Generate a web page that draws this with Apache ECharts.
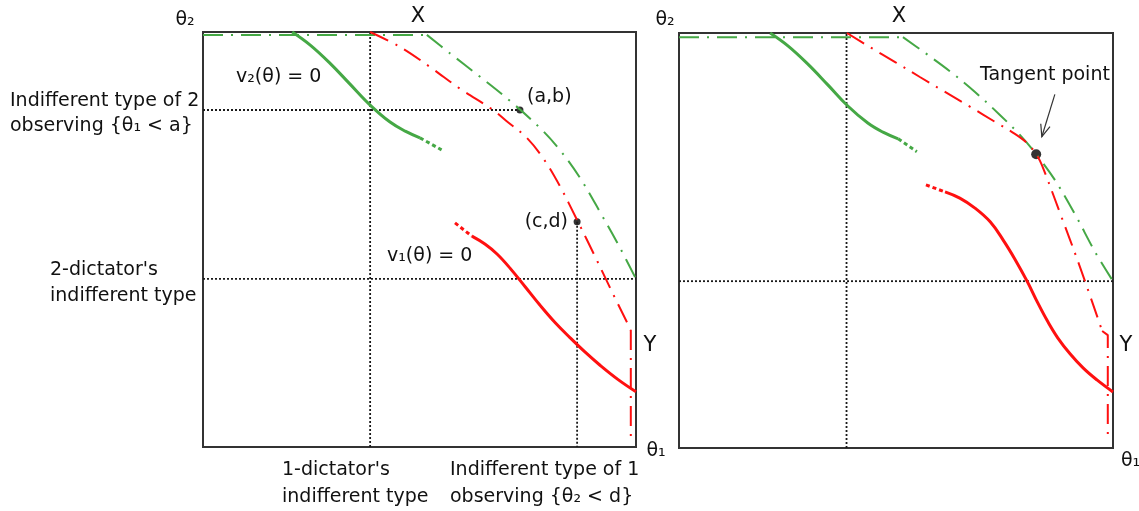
<!DOCTYPE html>
<html><head><meta charset="utf-8">
<script src="https://cdn.jsdelivr.net/npm/echarts@6/dist/echarts.min.js"></script>
<style>html,body{margin:0;padding:0;background:#fff}#c{width:1139px;height:511px}</style>
</head><body><div id="c"></div>
<script>
// ---- Data (panel units: 0..100 on both axes) ----
// Left panel
const L_vDotX = [[38.6,0],[38.6,100]];
const L_hDotAB = [[0,81.2],[73.2,81.2]];
const L_hDotMid = [[0,40.5],[100,40.5]];
const L_vDotCD = [[86.4,54.3],[86.4,0]];
const L_greenTop = [[0,99.3],[51.7,99.3]];
const L_greenDD = [[51.7,99.3],[57.0,94.9],[64.0,89.2],[70.9,83.4],[77.8,76.9],[82.4,71.6],[87.1,64.8],[91.7,56.6],[96.3,48.0],[100,40.5]];
const L_redDD = [[38.6,100],[45.5,96.4],[52.4,91.6],[59.4,86.3],[67.0,81.2],[70.0,78.6],[74.8,74.5],[78.8,69.2],[82.4,62.9],[86.4,54.7],[90.5,46.0],[94.5,37.3],[98.8,28.2]];
const L_redVert = [[98.8,28.2],[98.8,1.7]];
const L_greenSolid = [[20.6,100],[24.7,96.9],[29.3,92.5],[33.9,87.5],[38.6,82.4],[43.2,78.3],[46.7,76.1],[50.1,74.5]];
const L_greenExt = [[50.1,74.5],[55.1,71.6]];
const L_redExt = [[58.2,54.0],[62.1,50.8]];
const L_redSolid = [[62.1,50.8],[65.1,48.9],[67.9,46.5],[70.9,43.1],[74.4,38.6],[77.8,34.2],[81.3,30.0],[84.8,26.3],[88.2,22.9],[91.7,19.7],[95.8,16.3],[100,13.3]];
const L_points = [[73.2,81.2],[86.4,54.3]];
// Right panel
const R_vDotX = [[38.6,0],[38.6,100]];
const R_hDotMid = [[0,40.2],[100,40.2]];
const R_greenTop = [[0,99.0],[51.6,99.0]];
const R_greenDD = [[51.6,99.0],[56.7,95.2],[62.4,90.8],[68.2,85.8],[74.0,80.2],[78.6,75.4],[82.3,70.8],[86.6,64.6],[91.2,56.4],[95.9,47.2],[100,40.2]];
const R_redDD = [[38.7,100],[44.0,96.6],[49.8,93.0],[55.5,89.4],[61.3,85.8],[67.1,82.2],[72.8,78.6],[77.4,75.7],[80.4,73.3],[82.3,70.8],[83.6,68.2],[87.8,56.6],[92.4,43.6],[97.5,28.2]];
const R_redVert = [[97.5,28.2],[98.8,27.2],[98.8,1.5]];
const R_greenSolid = [[21.0,100],[25.1,96.9],[29.7,92.5],[34.3,87.5],[38.9,82.4],[43.5,78.3],[47.0,76.1],[50.5,74.5]];
const R_greenExt = [[50.5,74.5],[54.8,71.4]];
const R_redExt = [[56.9,63.4],[61.3,61.7]];
const R_redSolid = [[61.3,61.7],[64.7,60.2],[68.2,57.8],[71.7,54.5],[74.7,50.1],[77.4,45.5],[80.2,40.2],[82.7,34.9],[85.0,30.4],[87.3,26.5],[90.1,22.7],[93.1,19.3],[96.3,16.4],[100,13.5]];
const R_tangent = [[82.3,70.8]];
const R_arrow = [[86.6,85.2,83.6,75.0]];

// Text
const T = {
  theta2: 'θ₂', theta1: 'θ₁', X: 'X', Y: 'Y',
  v2: 'v₂(θ) = 0', v1: 'v₁(θ) = 0', ab: '(a,b)', cd: '(c,d)',
  ind2: 'Indifferent type of 2\nobserving {θ₁ < a}',
  dict2: "2-dictator's\nindifferent type",
  dict1: "1-dictator's\nindifferent type",
  ind1: 'Indifferent type of 1\nobserving {θ₂ < d}',
  tangent: 'Tangent point'
};

const GREEN = '#45a845', RED = '#ff1010', DOT = '#1a1a1a';
const DASHDOT = [20, 8, 2, 8];
const FONT = "'DejaVu Sans', Verdana, sans-serif";

function ln(g, data, color, width, type, smooth) {
  return { type: 'line', xAxisIndex: g, yAxisIndex: g, data: data, symbol: 'none', clip: false,
    smooth: smooth || false, silent: true, animation: false,
    lineStyle: { color: color, width: width, type: type, cap: 'butt' } };
}
function pts(g, data, size) {
  return { type: 'scatter', xAxisIndex: g, yAxisIndex: g, data: data, symbolSize: size, clip: false,
    itemStyle: { color: '#000' }, animation: false, silent: true };
}
function txt(x, y, text, size, align, lh) {
  return { type: 'text', x: x, y: y, silent: true,
    style: { text: text, fill: '#111', font: size + 'px ' + FONT, textAlign: align || 'left',
      textVerticalAlign: 'top', lineHeight: lh || size + 6 } };
}

const chart = echarts.init(document.getElementById('c'), null, { renderer: 'canvas' });
const axisCommon = { type: 'value', min: 0, max: 100, show: false };
chart.setOption({
  backgroundColor: '#fff',
  animation: false,
  grid: [
    { left: 203, top: 32, width: 433, height: 415, show: true, borderColor: '#333', borderWidth: 2, backgroundColor: 'transparent' },
    { left: 679, top: 33, width: 434, height: 415, show: true, borderColor: '#333', borderWidth: 2, backgroundColor: 'transparent' }
  ],
  xAxis: [Object.assign({ gridIndex: 0 }, axisCommon), Object.assign({ gridIndex: 1 }, axisCommon)],
  yAxis: [Object.assign({ gridIndex: 0 }, axisCommon), Object.assign({ gridIndex: 1 }, axisCommon)],
  series: [
    ln(0, L_vDotX, DOT, 1.8, [2, 2]),
    ln(0, L_hDotAB, DOT, 1.8, [2, 2]),
    ln(0, L_hDotMid, DOT, 1.8, [2, 2]),
    ln(0, L_vDotCD, DOT, 1.8, [2, 2]),
    ln(0, L_greenTop, GREEN, 2, DASHDOT),
    ln(0, L_greenDD, GREEN, 2, DASHDOT, 0.35),
    ln(0, L_redDD, RED, 2, DASHDOT, 0.35),
    ln(0, L_redVert, RED, 2, DASHDOT),
    ln(0, L_greenSolid, GREEN, 3, 'solid', 0.4),
    ln(0, L_greenExt, GREEN, 3, [4, 3]),
    ln(0, L_redExt, RED, 3, [4, 3]),
    ln(0, L_redSolid, RED, 3, 'solid', 0.4),
    pts(0, L_points, 7),
    ln(1, R_vDotX, DOT, 1.8, [2, 2]),
    ln(1, R_hDotMid, DOT, 1.8, [2, 2]),
    ln(1, R_greenTop, GREEN, 2, DASHDOT),
    ln(1, R_greenDD, GREEN, 2, DASHDOT, 0.35),
    ln(1, R_redDD, RED, 2, DASHDOT, 0.35),
    ln(1, R_redVert, RED, 2, DASHDOT),
    ln(1, R_greenSolid, GREEN, 3, 'solid', 0.4),
    ln(1, R_greenExt, GREEN, 3, [4, 3]),
    ln(1, R_redExt, RED, 3, [4, 3]),
    ln(1, R_redSolid, RED, 3, 'solid', 0.4),
    pts(1, R_tangent, 10),
    {
      type: 'custom', xAxisIndex: 1, yAxisIndex: 1, data: R_arrow, silent: true, clip: false,
      encode: { x: [0, 2], y: [1, 3] },
      renderItem: function (params, api) {
        const p1 = api.coord([api.value(0), api.value(1)]);
        const p2 = api.coord([api.value(2), api.value(3)]);
        const a = Math.atan2(p2[1] - p1[1], p2[0] - p1[0]);
        const L = 13, s = 0.38;
        const h1 = [p2[0] - L * Math.cos(a - s), p2[1] - L * Math.sin(a - s)];
        const h2 = [p2[0] - L * Math.cos(a + s), p2[1] - L * Math.sin(a + s)];
        const st = { stroke: '#333', lineWidth: 1.2, fill: null };
        return { type: 'group', children: [
          { type: 'line', shape: { x1: p1[0], y1: p1[1], x2: p2[0], y2: p2[1] }, style: st },
          { type: 'polyline', shape: { points: [h1, p2, h2] }, style: st }
        ] };
      }
    }
  ],
  graphic: [
    txt(185, 8, T.theta2, 19, 'center'),
    txt(418, 3, T.X, 21, 'center'),
    txt(236, 65, T.v2, 19),
    txt(527, 85, T.ab, 19),
    txt(568, 210, T.cd, 19, 'right'),
    txt(387, 244, T.v1, 19),
    txt(650, 332, T.Y, 21, 'center'),
    txt(656, 439, T.theta1, 19, 'center'),
    txt(10, 89, T.ind2, 19, 'left', 25),
    txt(50, 257, T.dict2, 19, 'left', 26),
    txt(282, 457, T.dict1, 19, 'left', 27),
    txt(450, 457, T.ind1, 19, 'left', 27),
    txt(665, 8, T.theta2, 19, 'center'),
    txt(899, 3, T.X, 21, 'center'),
    txt(980, 63, T.tangent, 19),
    txt(1126, 332, T.Y, 21, 'center'),
    txt(1121, 449, T.theta1, 19, 'left')
  ]
});
</script></body></html>
